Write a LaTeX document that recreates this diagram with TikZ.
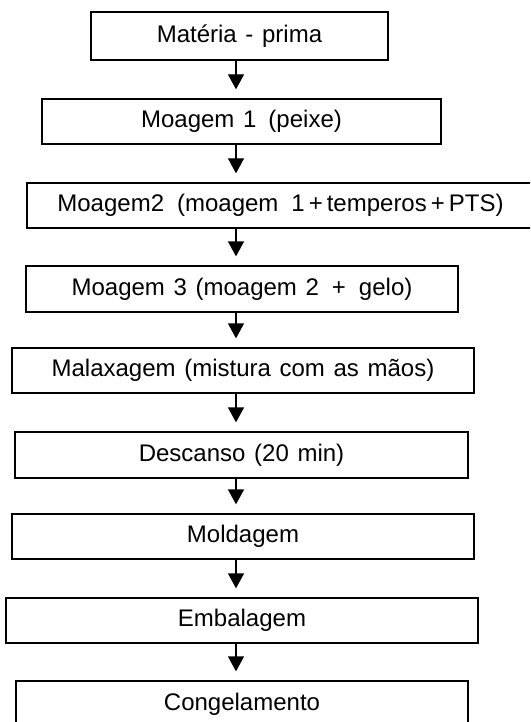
\documentclass[tikz,border=0pt]{standalone}
\usepackage{fontspec}
\setmainfont[WordSpace=1.3]{Liberation Sans}
\usetikzlibrary{arrows.meta}
\begin{document}
\begin{tikzpicture}[x=1pt,y=-1pt,
  stepbox/.style={draw,line width=1.3pt,rectangle,inner sep=0pt,anchor=center,font=\fontsize{24}{27}\selectfont},
  arr/.style={line width=1.3pt,-{Triangle[width=16pt,length=15pt]},shorten >=9pt}]
\useasboundingbox (0,0) rectangle (530,722);
\clip (0,0) rectangle (530,722);
\node[stepbox,minimum width=297pt,minimum height=48pt] (b1) at (239.5,36) {Matéria - prima};
\node[stepbox,minimum width=399pt,minimum height=45pt] (b2) at (241.5,121.5) {Moagem 1\hspace{12pt}(peixe)};
\node[stepbox,minimum width=507pt,minimum height=45pt] (b3) at (280.5,205.5) {Moagem2\hspace{13pt}(moagem\hspace{13pt}1\,+\,temperos\,+\,PTS)};
\node[stepbox,minimum width=432pt,minimum height=46pt] (b4) at (242,289) {Moagem 3 (moagem 2\hspace{13pt}+\hspace{13pt}gelo)};
\node[stepbox,minimum width=462pt,minimum height=45pt] (b5) at (243,370.5) {Malaxagem (mistura com as mãos)};
\node[stepbox,minimum width=453pt,minimum height=46pt] (b6) at (241.5,455) {Descanso (20 min)};
\node[stepbox,minimum width=462pt,minimum height=45pt] (b7) at (243,536.5) {Moldagem};
\node[stepbox,minimum width=472pt,minimum height=45pt] (b8) at (242,620.5) {Embalagem};
\node[stepbox,minimum width=452pt,minimum height=46pt] (b9) at (242,704) {Congelamento};
\foreach \a/\b in {b1/b2,b2/b3,b3/b4,b4/b5,b5/b6,b6/b7,b7/b8,b8/b9}
  \draw[arr] (\a.south -| 236,0) -- (\b.north -| 236,0);
\end{tikzpicture}
\end{document}
